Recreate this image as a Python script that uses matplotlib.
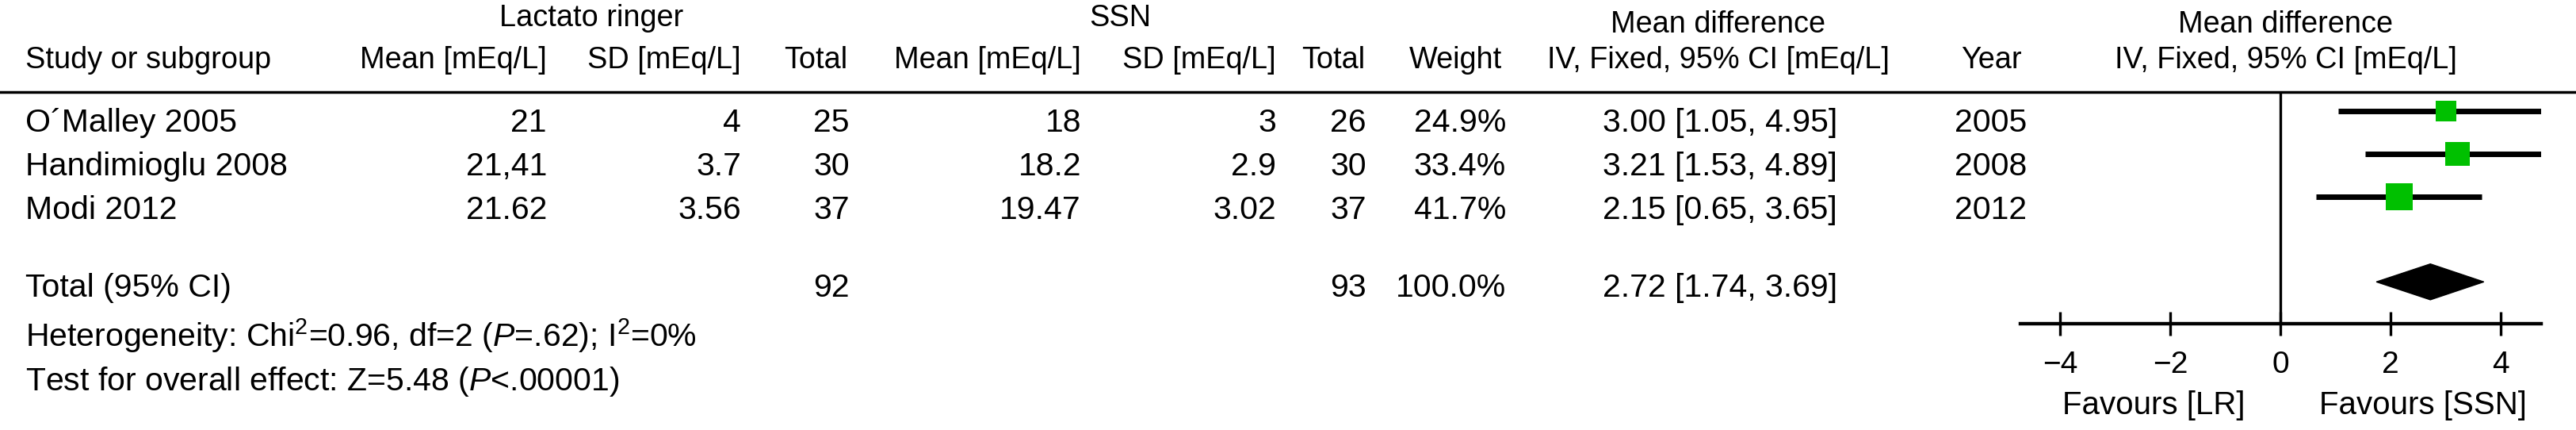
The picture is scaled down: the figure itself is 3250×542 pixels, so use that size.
import matplotlib
matplotlib.use("Agg")
import matplotlib.pyplot as plt
from matplotlib.lines import Line2D
from matplotlib.patches import Polygon
from matplotlib.transforms import blended_transform_factory

plt.rcParams['font.family'] = ['Liberation Sans', 'DejaVu Sans']
plt.rcParams['mathtext.fontset'] = 'custom'
plt.rcParams['mathtext.rm'] = 'Liberation Sans'
plt.rcParams['mathtext.it'] = 'Liberation Sans:italic'
plt.rcParams['mathtext.bf'] = 'Liberation Sans:bold'

# study level data
studies = ['O\u00b4Malley 2005', 'Handimioglu 2008', 'Modi 2012']
lr_mean = ['21', '21,41', '21.62']
lr_sd = ['4', '3.7', '3.56']
lr_total = [25, 30, 37]
ssn_mean = ['18', '18.2', '19.47']
ssn_sd = ['3', '2.9', '3.02']
ssn_total = [26, 30, 37]
weights = [24.9, 33.4, 41.7]
md = [3.00, 3.21, 2.15]
ci_low = [1.05, 1.53, 0.65]
ci_high = [4.95, 4.89, 3.65]
years = [2005, 2008, 2012]

# pooled result
total_lr = 92
total_ssn = 93
total_weight = 100.0
total_md = 2.72
total_low = 1.74
total_high = 3.69

heterogeneity = 'Heterogeneity: Chi$^{2}$=0.96, df=2 ($P$=.62); I$^{2}$=0%'
overall = 'Test for overall effect: Z=5.48 ($P$<.00001)'
x_ticks = [-4, -2, 0, 2, 4]
favours = ['Favours [LR]', 'Favours [SSN]']

W, H = 3250, 542
fig = plt.figure(figsize=(W / 100, H / 100), dpi=100)
FS_HEAD = 27.3
FS_BODY = 29.5


def fx(x):
    return x / W


def fy(y):
    return 1 - y / H


def put(x, y, s, ha='left', fontsize=FS_HEAD):
    fig.text(fx(x), fy(y), s, ha=ha, va='baseline', fontsize=fontsize)


# headers
put(746, 33, 'Lactato ringer', 'center')
put(1413, 33, 'SSN', 'center')
put(2168, 41, 'Mean difference', 'center')
put(2884, 41, 'Mean difference', 'center')
put(32, 86, 'Study or subgroup')
put(690, 86, 'Mean [mEq/L]', 'right')
put(935, 86, 'SD [mEq/L]', 'right')
put(1069, 86, 'Total', 'right')
put(1364, 86, 'Mean [mEq/L]', 'right')
put(1610, 86, 'SD [mEq/L]', 'right')
put(1722, 86, 'Total', 'right')
put(1895, 86, 'Weight', 'right')
put(2168, 86, 'IV, Fixed, 95% CI [mEq/L]', 'center')
put(2512, 86, 'Year', 'center')
put(2884, 86, 'IV, Fixed, 95% CI [mEq/L]', 'center')

fig.add_artist(Line2D([0, 1], [fy(116), fy(116)], transform=fig.transFigure,
                      color='black', lw=2.5))

# study rows
for i in range(len(studies)):
    y = 166 + 55 * i
    put(32, y, studies[i], fontsize=FS_BODY)
    put(690, y, lr_mean[i], 'right', FS_BODY)
    put(935, y, lr_sd[i], 'right', FS_BODY)
    put(1072, y, str(lr_total[i]), 'right', FS_BODY)
    put(1364, y, ssn_mean[i], 'right', FS_BODY)
    put(1610, y, ssn_sd[i], 'right', FS_BODY)
    put(1724, y, str(ssn_total[i]), 'right', FS_BODY)
    put(1900, y, f'{weights[i]:.1f}%', 'right', FS_BODY)
    put(2318, y, f'{md[i]:.2f} [{ci_low[i]:.2f}, {ci_high[i]:.2f}]', 'right', FS_BODY)
    put(2512, y, str(years[i]), 'center', FS_BODY)

# total row and footnotes
put(32, 374, 'Total (95% CI)', fontsize=FS_BODY)
put(1072, 374, str(total_lr), 'right', FS_BODY)
put(1724, 374, str(total_ssn), 'right', FS_BODY)
put(1900, 374, f'{total_weight:.1f}%', 'right', FS_BODY)
put(2318, 374, f'{total_md:.2f} [{total_low:.2f}, {total_high:.2f}]', 'right', FS_BODY)
put(32, 437, heterogeneity, fontsize=FS_BODY)
put(32, 492, overall, fontsize=FS_BODY)

# forest plot
ax = fig.add_axes([fx(2549), fy(408), fx(3206) - fx(2549), (408 - 117) / H])
ax.set_xlim(-4.72, 4.73)
ax.set_ylim(4.98, -0.43)
for side in ['top', 'left', 'right']:
    ax.spines[side].set_visible(False)
ax.spines['bottom'].set_linewidth(3.2)
ax.set_yticks([])
ax.set_xticks(x_ticks)
ax.tick_params(axis='x', direction='inout', length=21, width=2.4, pad=14, labelsize=28)
ax.patch.set_visible(False)

ax.axvline(0, color='black', lw=2.4)
rows = list(range(len(studies)))
ax.hlines(rows, ci_low, ci_high, color='black', lw=5)
ax.scatter(md, rows, s=[w * 14.56 for w in weights], marker='s', color='#00c000',
           linewidths=0, zorder=3)

total_row = 4.0
dh = 0.42
ax.add_patch(Polygon([(total_low, total_row), (total_md, total_row - dh),
                      (total_high, total_row), (total_md, total_row + dh)],
                     closed=True, facecolor='black', edgecolor='black'))

trans = blended_transform_factory(ax.transData, fig.transFigure)
ax.text(-2.3, fy(522), favours[0], transform=trans, ha='center', va='baseline', fontsize=29)
ax.text(2.58, fy(522), favours[1], transform=trans, ha='center', va='baseline', fontsize=29)

fig.savefig('out.png', dpi=100)
